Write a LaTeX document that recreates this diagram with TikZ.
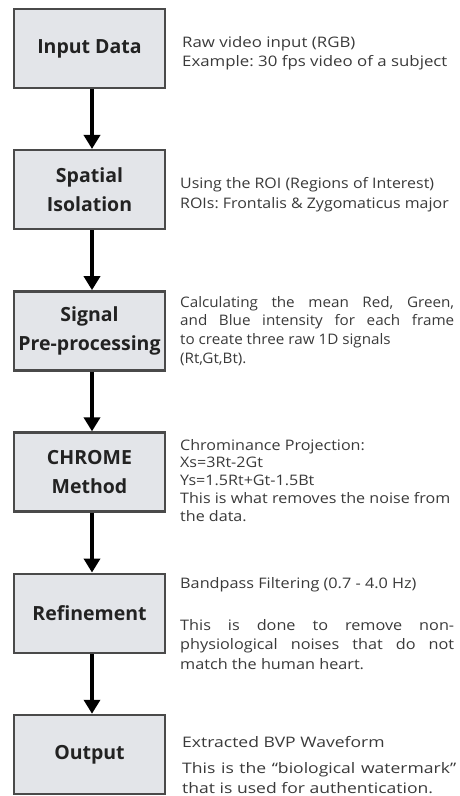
\documentclass[tikz,border=0pt]{standalone}
\usepackage{fontspec}
\setmainfont{Open Sans}
\usetikzlibrary{arrows.meta}

\definecolor{boxfill}{HTML}{E3E5E9}
\definecolor{boxline}{HTML}{4A4A4A}
\definecolor{titletext}{HTML}{222222}
\definecolor{desctext}{HTML}{3A3A3A}

% widened faces for the description blocks
\newfontfamily\noteA[FakeStretch=1.16]{Open Sans}
\newfontfamily\noteB[FakeStretch=1.10]{Open Sans}
\newfontfamily\noteC[FakeStretch=1.05]{Open Sans}
\newfontfamily\noteD[FakeStretch=1.11]{Open Sans}
\newfontfamily\noteE[FakeStretch=1.12]{Open Sans}
\newfontfamily\noteF[FakeStretch=1.21]{Open Sans}

% description block: top-aligned so the node's base is the first baseline
\newcommand{\stagenote}[4][274pt]{\parbox[t]{#1}{#2\fontsize{14.5}{#3}\selectfont\frenchspacing #4}}

\begin{document}
\begin{tikzpicture}[x=1pt,y=-1pt,
  stage/.style={draw=boxline, line width=2.5pt, fill=boxfill,
    minimum width=151pt, minimum height=79pt, inner sep=0pt,
    font=\fontsize{19.5}{28.5}\selectfont\bfseries, text=titletext, align=center},
  note/.style={anchor=base west, inner sep=0pt, text=desctext},
  flow/.style={line width=3.5pt, -{Triangle[width=16pt,length=14pt]}}
]
\useasboundingbox (0,0) rectangle (459,796);

% pipeline stages
\node[stage] (input)   at (89.5, 48.5)  {Input Data};
\node[stage] (spatial) at (89.5, 189.7) {Spatial\\Isolation};
\node[stage] (signal)  at (89.5, 330.9) {Signal\\Pre-processing};
\node[stage] (chrome)  at (89.5, 472.1) {CHROME\\Method};
\node[stage] (refine)  at (89.5, 613.3) {Refinement};
\node[stage] (output)  at (89.5, 754.5) {Output};

% flow between stages
\foreach \a/\b in {input/spatial, spatial/signal, signal/chrome, chrome/refine, refine/output}
  \draw[flow] ([xshift=2.5pt]\a.south) -- ([xshift=2.5pt]\b.north);

% descriptions
\node[note] (n1) at (182, 47) {\stagenote[276pt]{\noteA}{19.5}{Raw video input (RGB)\\Example: 30 fps video of a subject}};
\node[note] (n2) at (180, 188) {\stagenote{\noteB}{20}{Using the ROI (Regions of Interest)\\ROIs: Frontalis \& Zygomaticus major}};
\node[note] (n3) at (180, 307) {\stagenote{\noteC}{18.7}{Calculating the mean Red, Green,\linebreak and Blue intensity for each frame\linebreak to create three raw 1D signals\\(Rt,Gt,Bt).}};
\node[note] (n4) at (180, 450) {\stagenote[278pt]{\noteD}{17.8}{Chrominance Projection:\\Xs=3Rt-2Gt\\Ys=1.5Rt+Gt-1.5Bt\\This is what removes the noise from\\the data.}};
\node[note] (n5) at (180, 588) {\stagenote{\noteE}{19.5}{Bandpass Filtering (0.7 - 4.0 Hz)\par\vspace{22.5pt}This is done to remove non-\linebreak physiological noises that do not\linebreak match the human heart.}};
\node[note] (n6) at (182, 747) {\stagenote{\noteF}{20}{Extracted BVP Waveform\par\vspace{6pt}This is the “biological watermark”\linebreak that is used for authentication.}};
\end{tikzpicture}
\end{document}
